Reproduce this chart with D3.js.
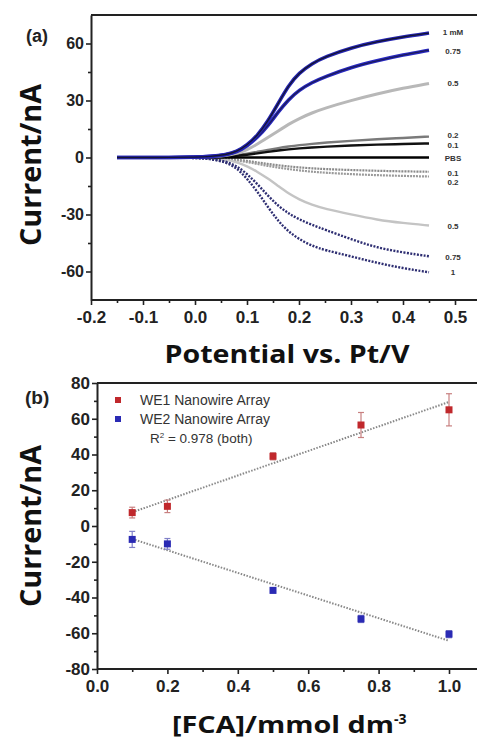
<!DOCTYPE html>
<html>
<head>
<meta charset="UTF-8">
<title></title>
<style type="text/css">
  body { margin: 0; background: #fff; }
  svg { display: block; }
</style>
</head>
<body>
<div id="chart"></div>
<script src="https://cdn.jsdelivr.net/npm/d3@7"></script>
<script type="text/javascript">
// ---------- panel (a) data : current (nA) vs potential (V) ----------
var potential = [-0.15, -0.1, -0.05, 0, 0.03, 0.06, 0.08, 0.1, 0.12, 0.14, 0.16, 0.18, 0.2, 0.225, 0.25, 0.3, 0.35, 0.4, 0.45];
var p1mM  = [0, 0, 0, 0.2, 0.5, 1.5, 3, 6.5, 11.5, 19, 28.5, 38, 44.5, 49.5, 53, 57.8, 61, 63.5, 65.5];
var p075  = [0, 0, 0, 0.2, 0.5, 1.4, 2.8, 6, 10.5, 16.5, 24, 30.5, 35.5, 39.5, 42.5, 47.5, 51, 54, 56.5];
var p05   = [0, 0, 0, 0.1, 0.4, 1, 2, 4, 7, 10.5, 14, 17.5, 20.5, 23.5, 26, 30, 33.5, 36.5, 39];
var p02   = [0, 0, 0, 0, 0.2, 0.6, 1.2, 2, 3, 4, 5, 5.8, 6.5, 7.2, 7.8, 8.8, 9.6, 10.3, 11];
var p01   = [0, 0, 0, 0, 0.1, 0.4, 0.8, 1.4, 2.2, 3, 3.7, 4.3, 4.8, 5.3, 5.7, 6.3, 6.8, 7.1, 7.4];
var pbs   = [0, 0, 0, 0, 0, 0, 0, 0, 0, 0, 0, 0, 0, 0, 0, 0, 0, 0, 0];
var n01   = [0, 0, 0, 0, -0.2, -0.6, -1.1, -1.8, -2.6, -3.4, -4.1, -4.7, -5.2, -5.7, -6.1, -6.6, -7, -7.3, -7.5];
var n02   = [0, 0, 0, 0, -0.3, -0.8, -1.5, -2.4, -3.4, -4.4, -5.3, -6.1, -6.8, -7.5, -8, -8.8, -9.3, -9.7, -10];
var n05   = [0, 0, 0, -0.1, -0.4, -1.2, -2.4, -4.5, -7.5, -11, -15, -19, -22, -25, -27, -30, -32.8, -34.5, -35.8];
var n075  = [0, 0, 0, -0.2, -0.6, -2, -4.5, -8.5, -14, -20, -25.5, -29.5, -32.5, -35.5, -38, -43, -47.5, -50, -52];
var n1    = [0, 0, 0, -0.2, -0.7, -2.5, -5.5, -11, -18, -26, -33.5, -39, -43, -46.5, -48.8, -52, -55.5, -58.3, -60.4];

// end labels of panel (a) and the current level they sit at
var endLabels    = ["1 mM", "0.75", "0.5", "0.2", "0.1", "PBS", "0.1", "0.2", "0.5", "0.75", "1"];
var endLabelVals = [66, 56, 39, 12, 6.8, 0, -7.9, -13, -36, -52.6, -60.5];

// ---------- panel (b) data : current vs [FCA] ----------
var conc    = [0.1, 0.2, 0.5, 0.75, 1.0];
var we1     = [7.5, 11, 39, 56.5, 65];
var we1Err  = [3, 3.5, 2, 7, 9];
var we2     = [-7.5, -10, -36, -52, -60.5];
var we2Err  = [4.5, 3, 1.5, 2, 2];
var legendNames = ["WE1 Nanowire Array", "WE2 Nanowire Array"];

var width = 477, height = 744;
var svg = d3.select("#chart").append("svg")
  .attr("width", width)
  .attr("height", height)
  .style("font-family", "'Liberation Sans', Arial, sans-serif");

// plain hyphen for negative tick labels, like the original
function fmt(spec) {
  var f = d3.format(spec);
  return function(d) { return f(d).replace("\u2212", "-"); };
}

// ================= panel (a) =================
var xa = d3.scaleLinear().domain([-0.2, 0.5]).range([91, 455]);
var ya = d3.scaleLinear().domain([-75, 75]).range([300, 15]);

var ga = svg.append("g");

// series styles (drawn in this order)
var seriesA = [
  { v: n01,  color: "#8a8a8a", w: 2.2, dash: "2,1" },
  { v: n02,  color: "#9a9a9a", w: 2.2, dash: "2,1" },
  { v: n05,  color: "#c4c4c4", w: 2.4, dash: null },
  { v: p02,  color: "#7a7a7a", w: 2.4, dash: null },
  { v: p01,  color: "#111111", w: 2.4, dash: null },
  { v: pbs,  color: "#000000", w: 2.6, dash: null },
  { v: p05,  color: "#b8b8b8", w: 3, dash: null },
  { v: n075, color: "#2e2e72", w: 2.4, dash: "2,1.4" },
  { v: n1,   color: "#2e2e72", w: 2.4, dash: "2,1.4" },
  { v: p075, color: "#2828c0", w: 3.6, dash: null, inner: "#1c1c5a" },
  { v: p1mM, color: "#2424b0", w: 3.6, dash: null, inner: "#141430" }
];

var lineA = d3.line()
  .x(function(d, i) { return xa(potential[i]); })
  .y(function(d) { return ya(d); })
  .curve(d3.curveBasis);

seriesA.forEach(function(s) {
  ga.append("path")
    .attr("d", lineA(s.v))
    .attr("fill", "none")
    .attr("stroke", s.color)
    .attr("stroke-width", s.w)
    .attr("stroke-dasharray", s.dash);
  if (s.inner) {
    ga.append("path")
      .attr("d", lineA(s.v))
      .attr("fill", "none")
      .attr("stroke", s.inner)
      .attr("stroke-width", 1.3);
  }
});

// end labels
ga.selectAll("text.endlab")
  .data(endLabels)
  .enter()
  .append("text")
  .attr("class", "endlab")
  .attr("x", 453)
  .attr("y", function(d, i) { return ya(endLabelVals[i]) + 3; })
  .attr("text-anchor", "middle")
  .style("font-size", "8px")
  .style("font-weight", "bold")
  .style("fill", "#333")
  .text(function(d) { return d; });

// frame
ga.append("line").attr("x1", 91).attr("x2", 480).attr("y1", 15).attr("y2", 15)
  .attr("stroke", "#222").attr("stroke-width", 2);

// axes
var axAx = ga.append("g").attr("transform", "translate(0,300)")
  .call(d3.axisBottom(xa).tickValues([-0.2, -0.1, 0, 0.1, 0.2, 0.3, 0.4, 0.5])
    .tickFormat(fmt(".1f")).tickSize(5).tickSizeOuter(0));
axAx.select(".domain").attr("d", "M91,0H480");
ga.append("g").attr("transform", "translate(0,300)")
  .call(d3.axisBottom(xa).tickValues([-0.15, -0.05, 0.05, 0.15, 0.25, 0.35, 0.45, 0.55])
    .tickFormat("").tickSize(3).tickSizeOuter(0))
  .select(".domain").remove();
var ayAx = ga.append("g").attr("transform", "translate(91,0)")
  .call(d3.axisLeft(ya).tickValues([-60, -30, 0, 30, 60]).tickFormat(fmt("d")).tickSize(5).tickSizeOuter(0));
ga.append("g").attr("transform", "translate(91,0)")
  .call(d3.axisLeft(ya).tickValues([-45, -15, 15, 45]).tickFormat("").tickSize(3).tickSizeOuter(0))
  .select(".domain").remove();

axAx.selectAll("text").style("font-size", "17px").style("font-weight", "bold").attr("dy", "0.9em");
ayAx.selectAll("text").style("font-size", "16px").style("font-weight", "bold").attr("x", -7);

ga.selectAll(".domain").attr("stroke", "#222").attr("stroke-width", 2);
ga.selectAll(".tick line").attr("stroke", "#222").attr("stroke-width", 1.6);
ga.selectAll(".tick text").style("fill", "#222").style("font-family", "'Liberation Sans', Arial, sans-serif");

ga.append("text").attr("x", 26).attr("y", 42)
  .style("font-size", "18px").style("font-weight", "bold").style("fill", "#222")
  .text("(a)");
ga.append("text")
  .attr("transform", "translate(41,165) rotate(-90)")
  .attr("text-anchor", "middle")
  .attr("textLength", 162)
  .attr("lengthAdjust", "spacingAndGlyphs")
  .style("font-family", "'Open Sans', sans-serif")
  .style("font-size", "28px").style("font-weight", "bold").style("fill", "#111")
  .text("Current/nA");
ga.append("text")
  .attr("x", 287).attr("y", 363)
  .attr("text-anchor", "middle")
  .attr("textLength", 245)
  .attr("lengthAdjust", "spacingAndGlyphs")
  .style("font-family", "'Open Sans', sans-serif")
  .style("font-size", "25px").style("font-weight", "bold").style("fill", "#111")
  .text("Potential vs. Pt/V");

// ================= panel (b) =================
var xb = d3.scaleLinear().domain([0, 1]).range([97, 449]);
var yb = d3.scaleLinear().domain([-80, 80]).range([669, 383]);
var gb = svg.append("g");

gb.append("line").attr("x1", 97).attr("x2", 480).attr("y1", 383).attr("y2", 383)
  .attr("stroke", "#222").attr("stroke-width", 2);

var bxAx = gb.append("g").attr("transform", "translate(0,669)")
  .call(d3.axisBottom(xb).tickValues([0, 0.2, 0.4, 0.6, 0.8, 1.0])
    .tickFormat(fmt(".1f")).tickSize(5).tickSizeOuter(0));
bxAx.select(".domain").attr("d", "M97,0H480");
gb.append("g").attr("transform", "translate(0,669)")
  .call(d3.axisBottom(xb).tickValues([0.1, 0.3, 0.5, 0.7, 0.9, 1.1]).tickFormat("").tickSize(3).tickSizeOuter(0))
  .select(".domain").remove();
var byAx = gb.append("g").attr("transform", "translate(97,0)")
  .call(d3.axisLeft(yb).tickValues([-80, -60, -40, -20, 0, 20, 40, 60, 80]).tickFormat(fmt("d")).tickSize(5).tickSizeOuter(0));
gb.append("g").attr("transform", "translate(97,0)")
  .call(d3.axisLeft(yb).tickValues([-70, -50, -30, -10, 10, 30, 50, 70]).tickFormat("").tickSize(3).tickSizeOuter(0))
  .select(".domain").remove();

bxAx.selectAll("text").style("font-size", "17px").style("font-weight", "bold").attr("dy", "0.9em");
byAx.selectAll("text").style("font-size", "17px").style("font-weight", "bold").attr("x", -7);
gb.selectAll(".domain").attr("stroke", "#222").attr("stroke-width", 2);
gb.selectAll(".tick line").attr("stroke", "#222").attr("stroke-width", 1.6);
gb.selectAll(".tick text").style("fill", "#222").style("font-family", "'Liberation Sans', Arial, sans-serif");

// linear fits (least squares of the read values)
function fit(xs, ys) {
  var mx = d3.mean(xs), my = d3.mean(ys);
  var sxy = d3.sum(xs, function(x, i) { return (x - mx) * (ys[i] - my); });
  var sxx = d3.sum(xs, function(x) { return (x - mx) * (x - mx); });
  var k = sxy / sxx;
  return { k: k, b: my - k * mx };
}
[we1, we2].forEach(function(ys) {
  var f = fit(conc, ys);
  var x0 = d3.min(conc), x1 = d3.max(conc);
  gb.append("line")
    .attr("x1", xb(x0)).attr("y1", yb(f.k * x0 + f.b))
    .attr("x2", xb(x1)).attr("y2", yb(f.k * x1 + f.b))
    .attr("stroke", "#888").attr("stroke-width", 2)
    .attr("stroke-dasharray", "1.5,1.5");
});

// points with error bars
function drawSeries(vals, errs, color, barColor) {
  var g = gb.append("g");
  var pts = g.selectAll("g.pt").data(vals).enter().append("g").attr("class", "pt");
  pts.append("line")
    .attr("x1", function(d, i) { return xb(conc[i]); })
    .attr("x2", function(d, i) { return xb(conc[i]); })
    .attr("y1", function(d, i) { return yb(d + errs[i]); })
    .attr("y2", function(d, i) { return yb(d - errs[i]); })
    .attr("stroke", barColor).attr("stroke-width", 1.2);
  [1, -1].forEach(function(sg) {
    pts.append("line")
      .attr("x1", function(d, i) { return xb(conc[i]) - 3; })
      .attr("x2", function(d, i) { return xb(conc[i]) + 3; })
      .attr("y1", function(d, i) { return yb(d + sg * errs[i]); })
      .attr("y2", function(d, i) { return yb(d + sg * errs[i]); })
      .attr("stroke", barColor).attr("stroke-width", 1.2);
  });
  pts.append("rect")
    .attr("x", function(d, i) { return xb(conc[i]) - 3.5; })
    .attr("y", function(d) { return yb(d) - 3.5; })
    .attr("width", 7).attr("height", 7)
    .attr("fill", color);
}
drawSeries(we1, we1Err, "#c0282c", "#c88080");
drawSeries(we2, we2Err, "#2a2ab4", "#8080c8");

// legend
var legColors = ["#c0282c", "#2a2ab4"];
legendNames.forEach(function(name, i) {
  gb.append("rect").attr("x", 115).attr("y", 397 + i * 19).attr("width", 6).attr("height", 6)
    .attr("fill", legColors[i]);
  gb.append("text").attr("x", 140).attr("y", 405 + i * 19)
    .style("font-size", "14px").style("fill", "#333")
    .text(name);
});
var r2 = gb.append("text").attr("x", 150).attr("y", 443)
  .style("font-size", "13.5px").style("fill", "#333");
r2.append("tspan").text("R");
r2.append("tspan").attr("dy", -5).style("font-size", "8px").text("2");
r2.append("tspan").attr("dy", 5).text(" = 0.978 (both)");

gb.append("text").attr("x", 25).attr("y", 404)
  .style("font-size", "19px").style("font-weight", "bold").style("fill", "#222")
  .text("(b)");
gb.append("text")
  .attr("transform", "translate(41,526) rotate(-90)")
  .attr("text-anchor", "middle")
  .attr("textLength", 162)
  .attr("lengthAdjust", "spacingAndGlyphs")
  .style("font-family", "'Open Sans', sans-serif")
  .style("font-size", "28px").style("font-weight", "bold").style("fill", "#111")
  .text("Current/nA");
var xt = gb.append("text")
  .attr("x", 172).attr("y", 733)
  .style("font-family", "'Open Sans', sans-serif")
  .style("font-size", "23px").style("font-weight", "bold").style("fill", "#111");
xt.append("tspan")
  .attr("textLength", 222)
  .attr("lengthAdjust", "spacingAndGlyphs")
  .text("[FCA]/mmol dm");
xt.append("tspan").attr("dy", -9).style("font-size", "14px").text("-3");
</script>
</body>
</html>
